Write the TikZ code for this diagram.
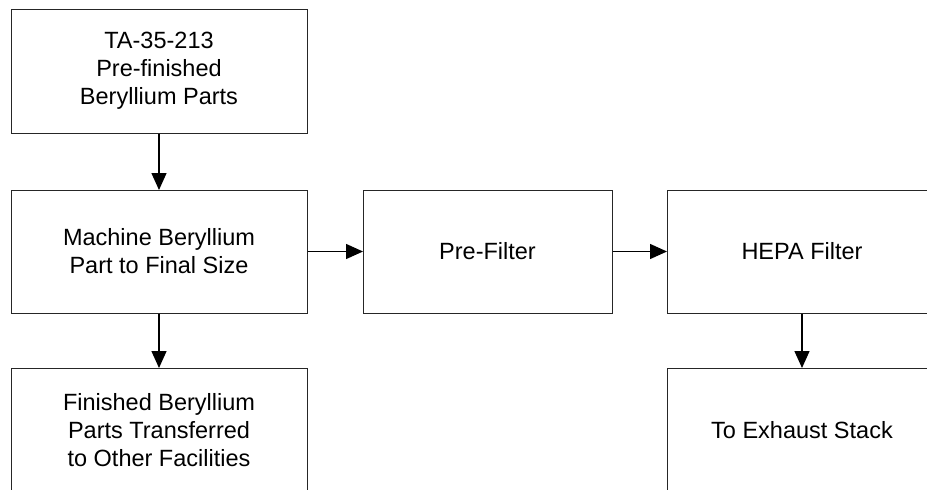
\documentclass[tikz,border=0pt]{standalone}
\usepackage{fontspec}
\setmainfont{Liberation Sans}
\usetikzlibrary{arrows.meta}
\begin{document}
\begin{tikzpicture}[x=1pt,y=-1pt,
  procbox/.style={draw=black!85, line width=1pt, rectangle, align=center,
    inner sep=0pt, font=\fontsize{23.5}{28}\selectfont},
  flow/.style={draw=black, line width=1.4pt,
    -{Triangle[length=17pt,width=15pt]}, shorten >=-0.5pt}]
  \clip (0,0) rectangle (927,490);
  \fill[white] (0,0) rectangle (927,490);
  \node[procbox, minimum width=296pt, minimum height=124pt] (src) at (159,71)
    {TA-35-213\\Pre-finished\\Beryllium Parts};
  \node[procbox, minimum width=296pt, minimum height=123pt] (mach) at (159,251.5)
    {Machine Beryllium\\Part to Final Size};
  \node[procbox, minimum width=296pt, minimum height=124pt] (done) at (159,430)
    {Finished Beryllium\\Parts Transferred\\to Other Facilities};
  \node[procbox, minimum width=249pt, minimum height=123pt] (pre) at (487.5,251.5)
    {Pre-Filter};
  \node[procbox, minimum width=270pt, minimum height=123pt] (hepa) at (802,251.5)
    {HEPA Filter};
  \node[procbox, minimum width=270pt, minimum height=124pt] (stack) at (802,430)
    {To Exhaust Stack};
  \draw[flow] (src) -- (mach);
  \draw[flow] (mach) -- (done);
  \draw[flow] (mach) -- (pre);
  \draw[flow] (pre) -- (hepa);
  \draw[flow] (hepa) -- (stack);
\end{tikzpicture}
\end{document}
